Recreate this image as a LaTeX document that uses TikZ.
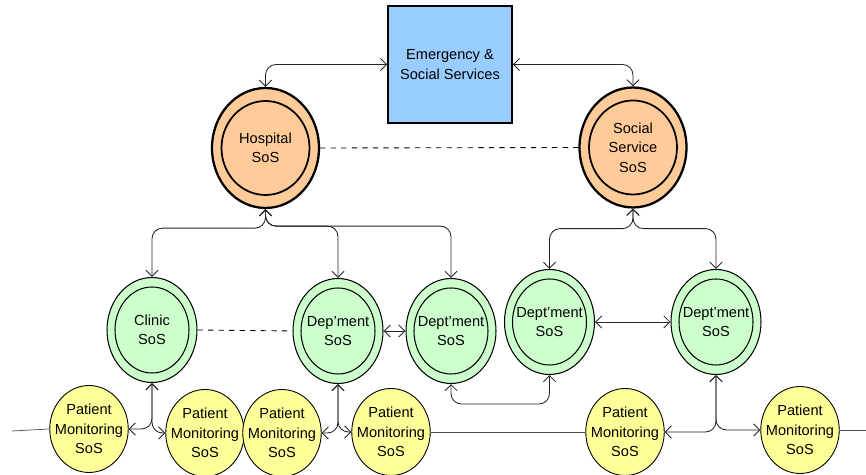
\documentclass[tikz,border=0pt]{standalone}
\usepackage{fontspec}
\setmainfont{Liberation Sans}
\usetikzlibrary{shapes.geometric,arrows.meta}

\definecolor{boxblue}{HTML}{99CCFF}
\definecolor{sosorange}{HTML}{FFCC99}
\definecolor{sosgreen}{HTML}{CCFFCC}
\definecolor{sosyellow}{HTML}{FFFF99}

\tikzset{
  every node/.style={font=\fontsize{8.3}{11}\selectfont, align=center, inner sep=0pt},
  servicebox/.style={draw, line width=0.9pt, fill=boxblue, minimum width=2.48cm, minimum height=2.34cm},
  topsos/.style={ellipse, draw, line width=1.3pt, fill=sosorange, minimum width=2.14cm, minimum height=2.4cm},
  topring/.style={line width=1pt},
  midsos/.style={ellipse, draw, line width=0.6pt, fill=sosgreen, inner xsep=-6pt, minimum width=1.8cm, minimum height=2.1cm},
  midring/.style={line width=0.6pt},
  patient/.style={ellipse, draw, line width=0.5pt, fill=sosyellow, inner xsep=-6pt, minimum width=1.57cm, minimum height=1.74cm},
  link/.style={<->, >={Straight Barb[length=3.5pt,width=7pt]}, line width=0.5pt, black!85, rounded corners=6pt},
  peer/.style={dashed, line width=0.5pt},
  bus/.style={line width=0.4pt, black!70},
}

\begin{document}
\begin{tikzpicture}[x=0.02cm, y=-0.02cm]
\useasboundingbox (0,0) rectangle (866,475);

% top layer
\node[servicebox] (emerg)  at (450,  64.5) {Emergency \&\\Social Services};
\node[topsos]     (hosp)   at (265.5, 148) {Hospital\\SoS};
\node[topsos]     (social) at (633,  147.5) {Social\\Service\\SoS};
\foreach \n in {hosp, social}
  \draw[topring] (\n.center) ellipse [x radius=44, y radius=47];

% second layer
\node[midsos] (clinic) at (152, 330) {Clinic\\SoS};
\node[midsos] (dep)    at (338, 331) {Dep’ment\\SoS};
\node[midsos] (dept)   at (451, 331) {Dept’ment\\SoS};
\node[midsos] (dpa)    at (549.5, 322) {Dept’ment\\SoS};
\node[midsos] (dpb)    at (716, 322) {Dept’ment\\SoS};
\foreach \n in {clinic, dep, dept, dpa, dpb}
  \draw[midring] (\n.center) ellipse [x radius=37, y radius=43];

% patient monitoring
\node[patient] (p1) at (89,  429) {Patient\\Monitoring\\SoS};
\node[patient] (p2) at (205, 433) {Patient\\Monitoring\\SoS};
\node[patient] (p3) at (282, 433) {Patient\\Monitoring\\SoS};
\node[patient] (p4) at (391, 432) {Patient\\Monitoring\\SoS};
\node[patient] (p5) at (625, 432) {Patient\\Monitoring\\SoS};
\node[patient] (p6) at (800, 430) {Patient\\Monitoring\\SoS};

\coordinate (busl) at (12,  431);
\coordinate (busr) at (866, 430);

% connectors
\draw[link] (hosp.north)   |- (emerg.west);
\draw[link] (social.north) |- (emerg.east);
\draw[peer] (hosp.east) -- (social.west);

\draw[link] (hosp.south) -- ++(0,19) -| (clinic.north);
\draw[link] (hosp.south) -- ++(0,17) -| (dep.north);
\draw[link] (hosp.south) -- ++(0,17) -| (dept.north);
\draw[link] (social.south) -- ++(0,20) -| (dpa.north);
\draw[link] (social.south) -- ++(0,20) -| (dpb.north);

\draw[peer] (clinic.east) -- (dep.west);
\draw[link] (dep.east) -- (dept.west);
\draw[link] (dpa.east) -- (dpb.west);
\draw[link] (dept.south) -- ++(0,20) -| (dpa.south);

\draw[link] (clinic.south) |- (p1.east);
\draw[link] (clinic.south) |- (p2.west);
\draw[link] (dep.south)    |- (p3.east);
\draw[link] (dep.south)    |- (p4.west);
\draw[link] (dpb.south)    |- (p5.east);
\draw[link] (dpb.south)    |- (p6.west);

\draw[bus] (busl) -- (p1.west);
\draw[bus] (p4.east) -- (p5.west);
\draw[bus] (p6.east) -- (busr);
\end{tikzpicture}
\end{document}
